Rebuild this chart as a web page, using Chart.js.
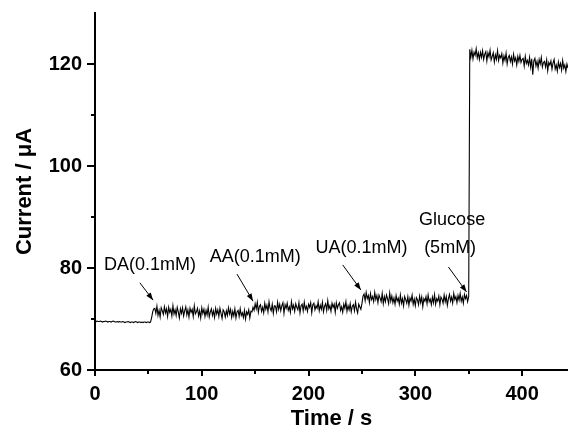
<!DOCTYPE html>
<html>
<head>
<meta charset="utf-8">
<script src="https://cdn.jsdelivr.net/npm/chart.js@4.4.1/dist/chart.umd.min.js"></script>
<style>
  html, body { margin: 0; padding: 0; background: #fff; }
</style>
</head>
<body>
<canvas id="itChart" width="568" height="432"></canvas>
<script>
// sampling times (s)
const times = [
  0,1,2,3,4,5,6,7,8,9,10,11,12,13,14,15,16,17,18,19,
  20,21,22,23,24,25,26,27,28,29,30,31,32,33,34,35,36,37,38,39,
  40,41,42,43,44,45,46,47,48,49,50,51,52,53,54,55,56,57,58,59,
  60,61,62,63,64,65,66,67,68,69,70,71,72,73,74,75,76,77,78,79,
  80,81,82,83,84,85,86,87,88,89,90,91,92,93,94,95,96,97,98,99,
  100,101,102,103,104,105,106,107,108,109,110,111,112,113,114,115,116,117,118,119,
  120,121,122,123,124,125,126,127,128,129,130,131,132,133,134,135,136,137,138,139,
  140,141,142,143,144,145,146,147,148,149,150,151,152,153,154,155,156,157,158,159,
  160,161,162,163,164,165,166,167,168,169,170,171,172,173,174,175,176,177,178,179,
  180,181,182,183,184,185,186,187,188,189,190,191,192,193,194,195,196,197,198,199,
  200,201,202,203,204,205,206,207,208,209,210,211,212,213,214,215,216,217,218,219,
  220,221,222,223,224,225,226,227,228,229,230,231,232,233,234,235,236,237,238,239,
  240,241,242,243,244,245,246,247,248,249,250,251,252,253,254,255,256,257,258,259,
  260,261,262,263,264,265,266,267,268,269,270,271,272,273,274,275,276,277,278,279,
  280,281,282,283,284,285,286,287,288,289,290,291,292,293,294,295,296,297,298,299,
  300,301,302,303,304,305,306,307,308,309,310,311,312,313,314,315,316,317,318,319,
  320,321,322,323,324,325,326,327,328,329,330,331,332,333,334,335,336,337,338,339,
  340,341,342,343,344,345,346,347,348,349,350,351,352,353,354,355,356,357,358,359,
  360,361,362,363,364,365,366,367,368,369,370,371,372,373,374,375,376,377,378,379,
  380,381,382,383,384,385,386,387,388,389,390,391,392,393,394,395,396,397,398,399,
  400,401,402,403,404,405,406,407,408,409,410,411,412,413,414,415,416,417,418,419,
  420,421,422,423,424,425,426,427,428,429,430,431,432,433,434,435,436,437,438,439,
  440,441,442,443,444
];

// current (uA)
const current = [
  // baseline, t = 0..52
  69.6,69.5,69.6,69.5,69.5,69.6,69.5,69.4,69.5,69.5,
  69.6,69.5,69.4,69.5,69.5,69.4,69.5,69.6,69.5,69.4,
  69.4,69.5,69.4,69.5,69.4,69.4,69.5,69.4,69.3,69.4,
  69.4,69.5,69.4,69.3,69.4,69.4,69.3,69.4,69.5,69.4,
  69.3,69.4,69.4,69.3,69.4,69.3,69.4,69.4,69.3,69.4,
  69.4,69.3,69.4,
  // DA(0.1mM) step, t = 53..146
  70.2,71.4,72.0,
  72.1,71.1,72.5,70.7,71.7,70.4,72.2,71.6,70.9,72.4,
  71.2,72.0,70.5,72.3,71.3,71.9,70.6,72.6,71.0,71.8,
  70.7,72.3,71.4,70.2,72.0,71.1,72.2,70.6,71.6,72.4,
  70.8,71.8,70.4,72.1,71.3,71.9,70.5,72.6,71.0,71.4,
  72.1,70.6,71.6,70.2,72.2,71.1,71.9,70.5,71.7,70.8,
  72.3,70.4,71.4,72.0,70.7,71.6,70.3,72.1,71.0,71.8,
  70.5,72.1,71.1,70.1,71.8,71.4,70.4,71.6,70.7,72.2,
  71.0,71.9,70.3,71.5,70.6,72.0,70.2,71.4,71.7,70.5,
  72.0,70.7,71.2,70.3,71.7,70.0,71.4,70.9,71.8,70.2,
  71.5,
  // AA(0.1mM) step, t = 147..249
  71.4,72.3,
  71.7,73.0,72.0,73.3,71.3,72.5,72.8,71.5,72.3,71.2,
  73.1,71.9,72.7,71.4,73.4,72.1,71.6,72.9,71.1,72.6,
  72.5,71.4,73.3,71.9,72.9,71.6,72.6,73.2,71.1,72.8,
  72.1,73.1,71.7,72.4,71.3,73.4,72.0,72.7,71.5,73.0,
  72.3,71.8,73.2,71.2,72.6,72.9,71.6,73.3,71.9,72.5,
  71.5,72.9,72.3,73.2,71.2,72.8,73.1,71.8,72.6,72.1,
  73.4,71.6,72.7,71.9,73.3,71.4,72.5,73.0,71.7,73.6,
  72.0,72.6,71.5,73.1,72.3,72.9,71.3,73.2,72.1,72.8,
  73.2,71.7,72.4,71.3,72.9,72.1,73.4,71.5,72.6,71.8,
  73.0,71.4,72.5,72.8,71.6,73.3,72.0,71.2,72.9,72.4,
  71.9,
  // UA(0.1mM) step, t = 250..350
  73.0,74.5,
  74.9,73.6,75.2,74.0,74.6,73.2,75.0,73.8,74.4,73.4,
  75.2,73.8,74.6,73.2,74.7,74.1,73.4,75.0,73.0,74.4,
  73.4,74.7,74.0,73.0,75.1,73.5,74.5,73.2,74.1,72.9,
  74.6,73.5,74.1,72.9,74.7,73.1,74.0,72.6,74.4,73.8,
  73.1,74.4,72.7,74.1,73.5,74.7,72.9,73.9,72.6,74.2,
  73.8,72.8,74.5,73.2,74.3,72.4,74.0,73.5,74.4,73.0,
  74.7,73.4,73.9,72.8,74.3,73.2,74.8,72.9,74.0,73.5,
  74.5,72.8,74.3,73.9,73.1,74.7,73.4,74.4,72.7,74.0,
  74.8,73.5,74.3,73.1,75.0,73.8,74.4,73.2,74.6,73.7,
  75.0,73.5,74.3,73.1,74.8,74.0,74.6,73.4,74.4,
  // Glucose(5mM) step, t = 351..444
  122.9,121.3,122.7,121.0,122.3,121.7,123.0,121.2,122.2,120.9,
  122.3,121.3,122.6,120.9,121.9,122.4,120.6,122.2,121.4,122.7,
  120.8,121.5,122.2,120.4,121.8,120.9,122.6,120.7,121.7,121.2,
  122.0,120.2,121.6,120.7,122.1,120.0,121.3,121.7,120.5,121.4,
  120.0,121.9,120.6,121.2,119.8,121.5,120.5,121.7,120.3,120.9,
  121.1,119.6,121.5,120.1,120.7,119.8,121.3,119.4,121.0,117.9,
  120.6,121.1,119.6,120.5,119.2,120.9,120.0,121.3,119.4,120.3,
  120.5,119.4,120.8,118.7,120.3,119.8,120.6,119.0,120.2,120.9,
  119.0,119.8,118.6,120.4,119.3,120.1,118.8,120.7,119.2,119.8,
  118.5,120.0,119.2,119.8
];

const xTicks = [0, 100, 200, 300, 400];
const xMinor = [50, 150, 250, 350];
const yTicks = [60, 80, 100, 120];
const yMinor = [70, 90, 110];

// annotations: text, arrow tip / tail and text anchor in data units
const noteLabels = [['DA(0.1mM)'], ['AA(0.1mM)'], ['UA(0.1mM)'], ['Glucose', '(5mM)']];
const noteTip = [[54.4, 73.7], [148, 73.5], [249, 75.7], [348, 75.3]];
const noteTail = [[42, 77.1], [133, 78.8], [232, 80.6], [331, 80.2]];
const noteText = [[51.5, 80.6], [150, 82.2], [249.5, 83.9], [332.6, 84.0]];

const FONT = '"Liberation Sans", Arial, Helvetica, sans-serif';

const extrasPlugin = {
  id: 'extras',
  afterDraw(chart) {
    const ctx = chart.ctx;
    const x = chart.scales.x, y = chart.scales.y;
    const area = chart.chartArea;
    ctx.save();
    ctx.strokeStyle = '#000';
    ctx.fillStyle = '#000';

    // tick marks (outside)
    ctx.lineWidth = 2;
    yTicks.concat(yMinor).forEach(function (v) {
      const len = yTicks.indexOf(v) >= 0 ? 8 : 4;
      const py = Math.round(y.getPixelForValue(v));
      ctx.beginPath();
      ctx.moveTo(area.left - len, py);
      ctx.lineTo(area.left, py);
      ctx.stroke();
    });
    xTicks.concat(xMinor).forEach(function (v) {
      const len = xTicks.indexOf(v) >= 0 ? 6 : 4;
      const px = Math.round(x.getPixelForValue(v));
      ctx.beginPath();
      ctx.moveTo(px, area.bottom);
      ctx.lineTo(px, area.bottom + len);
      ctx.stroke();
    });

    // annotations
    ctx.lineWidth = 1;
    ctx.font = '18px ' + FONT;
    ctx.textAlign = 'center';
    ctx.textBaseline = 'middle';
    noteLabels.forEach(function (lines, i) {
      const tx = x.getPixelForValue(noteText[i][0]);
      const ty = y.getPixelForValue(noteText[i][1]);
      lines.forEach(function (s, j) {
        ctx.fillText(s, tx + (j === 0 && lines.length > 1 ? 2 : 0), ty - (lines.length - 1 - j) * 28);
      });
      const x0 = x.getPixelForValue(noteTail[i][0]), y0 = y.getPixelForValue(noteTail[i][1]);
      const x1 = x.getPixelForValue(noteTip[i][0]), y1 = y.getPixelForValue(noteTip[i][1]);
      ctx.beginPath();
      ctx.moveTo(x0, y0);
      ctx.lineTo(x1, y1);
      ctx.stroke();
      const a = Math.atan2(y1 - y0, x1 - x0);
      ctx.beginPath();
      ctx.moveTo(x1, y1);
      ctx.lineTo(x1 - 8 * Math.cos(a - 0.35), y1 - 8 * Math.sin(a - 0.35));
      ctx.lineTo(x1 - 8 * Math.cos(a + 0.35), y1 - 8 * Math.sin(a + 0.35));
      ctx.closePath();
      ctx.fill();
    });
    ctx.restore();
  }
};

const ctx = document.getElementById('itChart').getContext('2d');
new Chart(ctx, {
  type: 'line',
  data: {
    datasets: [{
      data: times.map(function (t, i) { return { x: t, y: current[i] }; }),
      borderColor: '#000',
      borderWidth: 1.1,
      pointRadius: 0,
      tension: 0,
      fill: false
    }]
  },
  options: {
    responsive: false,
    animation: false,
    layout: { padding: { top: 13, right: 0, left: 0, bottom: 0 } },
    plugins: {
      legend: { display: false },
      tooltip: { enabled: false }
    },
    scales: {
      x: {
        type: 'linear',
        min: 0,
        max: 443,
        afterBuildTicks: function (s) { s.ticks = xTicks.map(function (v) { return { value: v }; }); },
        afterFit: function (s) { s.height = 62; },
        ticks: {
          color: '#000',
          font: { family: FONT, size: 20, weight: 'bold' },
          padding: 12,
          maxRotation: 0,
          autoSkip: false
        },
        grid: { display: true, drawOnChartArea: false, drawTicks: false },
        border: { display: true, color: '#000', width: 2 },
        title: {
          display: true,
          text: 'Time / s',
          color: '#000',
          font: { family: FONT, size: 22, weight: 'bold' },
          padding: { top: 3, bottom: 0 }
        }
      },
      y: {
        type: 'linear',
        min: 60,
        max: 130,
        afterBuildTicks: function (s) { s.ticks = yTicks.map(function (v) { return { value: v }; }); },
        afterFit: function (s) { s.width = 95; s.paddingTop = 0; s.paddingBottom = 0; },
        ticks: {
          color: '#000',
          font: { family: FONT, size: 20, weight: 'bold' },
          padding: 13
        },
        grid: { display: true, drawOnChartArea: false, drawTicks: false },
        border: { display: true, color: '#000', width: 2 },
        title: {
          display: true,
          text: 'Current / μA',
          color: '#000',
          font: { family: FONT, size: 22, weight: 'bold' },
          padding: { top: 12, bottom: 0 }
        }
      }
    }
  },
  plugins: [extrasPlugin]
});
</script>
</body>
</html>
